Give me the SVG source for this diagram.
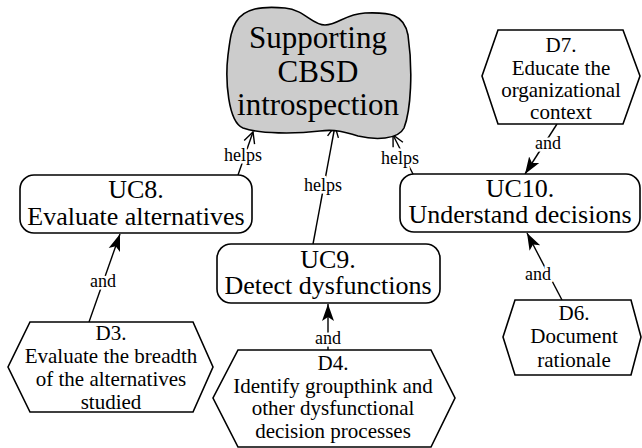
<svg xmlns="http://www.w3.org/2000/svg" width="642" height="448" viewBox="0 0 642 448">
<style>
text{font-family:"Liberation Serif","Times New Roman",serif;fill:#000;text-anchor:middle}
.big{font-size:31px}
.uc{font-size:26px}
.d{font-size:21px}
.lbl{font-size:18px;paint-order:stroke;stroke:#fff;stroke-width:5px;stroke-linejoin:round}
.shape{fill:#fff;stroke:#000;stroke-width:1.6}
.cloud{fill:#cccccc;stroke:#000;stroke-width:1.6}
.edge{fill:none;stroke:#000;stroke-width:1.4}
.helps{marker-end:url(#open)}
.and{marker-end:url(#solid)}
</style>
<defs>
<marker id="open" markerUnits="userSpaceOnUse" markerWidth="14" markerHeight="14" viewBox="0 0 14 14" refX="12" refY="7" orient="auto">
<path d="M1,1.5 L12,7 L1,12.5" fill="none" stroke="#000" stroke-width="1.4"/>
</marker>
<marker id="solid" markerUnits="userSpaceOnUse" markerWidth="18" markerHeight="14" viewBox="0 0 18 14" refX="17" refY="7" orient="auto">
<path d="M0,1 L17,7 L0,13 L4,7 Z" fill="#000"/>
</marker>
</defs>
<g id="connectors">
<line class="edge helps" x1="238" y1="175" x2="253" y2="132"/>
<text class="lbl" x="243" y="161">helps</text>
<line class="edge helps" x1="313" y1="244" x2="335" y2="126"/>
<text class="lbl" x="323" y="191">helps</text>
<line class="edge helps" x1="414" y1="176" x2="393" y2="135"/>
<text class="lbl" x="400" y="164">helps</text>
<line class="edge and" x1="89" y1="322" x2="120" y2="234"/>
<text class="lbl" x="103" y="287">and</text>
<line class="edge and" x1="328" y1="350" x2="328" y2="304"/>
<text class="lbl" x="328" y="344">and</text>
<line class="edge and" x1="557" y1="124" x2="525" y2="174"/>
<text class="lbl" x="548" y="149">and</text>
<line class="edge and" x1="562" y1="300" x2="527" y2="233"/>
<text class="lbl" x="538" y="280">and</text>
</g>
<g id="goal">
<path class="cloud" d="M236,22 C244,8 262,6 285,8 C305,10 312,25 325,25 C338,25 345,14 365,13 C390,12 404,14 408,35 C413,70 411,110 404,128 C398,140 375,140 358,136 C345,132 335,129 320,131 C295,134 260,134 243,128 C228,122 225,80 228,55 C230,40 231,30 236,22 Z"/>
<text class="big" x="318" y="48">Supporting</text>
<text class="big" x="318" y="82">CBSD</text>
<text class="big" x="318" y="115">introspection</text>
</g>
<g id="uc8">
<rect class="shape" x="20" y="175" width="232" height="58" rx="14"/>
<text class="uc" x="136" y="198">UC8.</text>
<text class="uc" x="136" y="225">Evaluate alternatives</text>
</g>
<g id="uc9">
<rect class="shape" x="217" y="244" width="223" height="59" rx="14"/>
<text class="uc" x="328" y="268">UC9.</text>
<text class="uc" x="328" y="294">Detect dysfunctions</text>
</g>
<g id="uc10">
<rect class="shape" x="400" y="174" width="240" height="58" rx="14"/>
<text class="uc" x="520" y="197">UC10.</text>
<text class="uc" x="520" y="223">Understand decisions</text>
</g>
<g id="d7">
<polygon class="shape" points="498,30 623,30 640,76 623,124 498,124 482,76"/>
<text class="d" x="561" y="52">D7.</text>
<text class="d" x="561" y="75">Educate the</text>
<text class="d" x="561" y="97">organizational</text>
<text class="d" x="561" y="119">context</text>
</g>
<g id="d6">
<polygon class="shape" points="515,300 631,300 641,337 631,375 515,375 503,337"/>
<text class="d" x="574" y="320">D6.</text>
<text class="d" x="574" y="343">Document</text>
<text class="d" x="574" y="367">rationale</text>
</g>
<g id="d3">
<polygon class="shape" points="30,322 193,322 213,367 193,412 30,412 8,367"/>
<text class="d" x="111" y="340">D3.</text>
<text class="d" x="111" y="363">Evaluate the breadth</text>
<text class="d" x="111" y="386">of the alternatives</text>
<text class="d" x="111" y="409">studied</text>
</g>
<g id="d4">
<polygon class="shape" points="238,350 431,350 455,398 431,447 238,447 213,398"/>
<text class="d" x="333" y="370">D4.</text>
<text class="d" x="333" y="393">Identify groupthink and</text>
<text class="d" x="333" y="415">other dysfunctional</text>
<text class="d" x="333" y="438">decision processes</text>
</g>
</svg>
